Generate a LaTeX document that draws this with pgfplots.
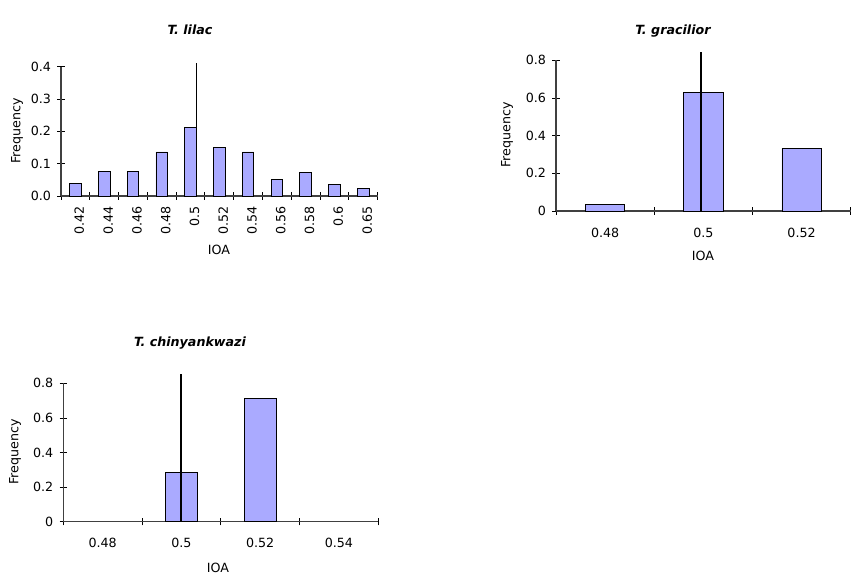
\documentclass[border=0pt]{standalone}
\usepackage{pgfplots}
\pgfplotsset{compat=1.18}
\usepackage{fontspec}
\setmainfont{DejaVu Sans}
\definecolor{barblue}{RGB}{170,170,255}
\newcommand{\ff}{\fontsize{9.5}{11}\selectfont}
\pgfplotsset{
  myaxis/.style={
    scale only axis, axis lines*=left,
    axis line style={black!75, line width=0.8pt},
    tick align=center, major tick length=0pt, minor tick length=5.5pt,
    every tick/.append style={black, line width=0.6pt},
    tick label style={font=\ff},
    y tick label style={xshift=-4pt},
    /pgf/number format/assume math mode=true,
    clip=false, ymin=0, anchor=south west,
  },
  mybar/.style={ybar, bar width=0.4, fill=barblue, draw=black, line width=0.6pt},
}
\begin{document}
\begin{tikzpicture}[x=0.75pt,y=0.75pt]
\useasboundingbox (0,0) rectangle (859,583);

% Chart 1: T. lilac
\begin{axis}[myaxis, at={(45.75pt,290.25pt)}, width=237.4pt, height=97.1pt,
  xmin=-0.5, xmax=10.5, ymax=0.4,
  xtick={0,1,2,3,4,5,6,7,8,9,10},
  xticklabels={0.42,0.44,0.46,0.48,0.5,0.52,0.54,0.56,0.58,0.6,0.65},
  minor xtick={-0.5,0.5,1.5,2.5,3.5,4.5,5.5,6.5,7.5,8.5,9.5,10.5},
  ytick={0,0.1,0.2,0.3,0.4}, minor ytick={0,0.1,0.2,0.3,0.4},
  y tick label style={/pgf/number format/.cd, fixed, fixed zerofill, precision=1},
  x tick label style={rotate=90, anchor=east, xshift=-4.5pt, yshift=-3pt}]
\addplot[mybar] coordinates {(0,0.039) (1,0.075) (2,0.075) (3,0.136) (4,0.211) (5,0.150) (6,0.136) (7,0.052) (8,0.073) (9,0.036) (10,0.024)};
\addplot[black, line width=0.8pt] coordinates {(4.22,0) (4.22,0.411)};
\end{axis}
\node[font={\ff\bfseries\itshape}] at (190,553) {T. lilac};
\node[font=\ff, rotate=90] at (17,452) {Frequency};
\node[font=\ff] at (219,333) {IOA};

% Chart 2: T. gracilior
\begin{axis}[myaxis, at={(417pt,279pt)}, width=221.0pt, height=113.0pt,
  xmin=-0.5, xmax=2.5, ymax=0.8,
  xtick={0,1,2}, xticklabels={0.48,0.5,0.52},
  minor xtick={-0.5,0.5,1.5,2.5},
  ytick={0,0.2,0.4,0.6,0.8}, minor ytick={0,0.2,0.4,0.6,0.8},
  y tick label style={/pgf/number format/.cd, fixed, precision=1},
  x tick label style={yshift=-9pt}]
\addplot[mybar] coordinates {(0,0.037) (1,0.630) (2,0.333)};
\addplot[black, line width=1.5pt] coordinates {(0.98,0) (0.98,0.843)};
\end{axis}
\node[font={\ff\bfseries\itshape}] at (673,552) {T. gracilior};
\node[font=\ff, rotate=90] at (507,448) {Frequency};
\node[font=\ff] at (703,327) {IOA};

% Chart 3: T. chinyankwazi
\begin{axis}[myaxis, at={(47.475pt,45.975pt)}, width=236.25pt, height=103.8pt,
  xmin=-0.5, xmax=3.5, ymax=0.8,
  xtick={0,1,2,3}, xticklabels={0.48,0.5,0.52,0.54},
  minor xtick={-0.5,0.5,1.5,2.5,3.5},
  ytick={0,0.2,0.4,0.6,0.8}, minor ytick={0,0.2,0.4,0.6,0.8},
  y tick label style={/pgf/number format/.cd, fixed, precision=1},
  x tick label style={yshift=-9pt}]
\addplot[mybar] coordinates {(1,0.286) (2,0.714)};
\addplot[black, line width=1.5pt] coordinates {(0.99,0) (0.99,0.854)};
\end{axis}
\node[font={\ff\bfseries\itshape}] at (190,240) {T. chinyankwazi};
\node[font=\ff, rotate=90] at (15,131) {Frequency};
\node[font=\ff] at (218,15) {IOA};
\end{tikzpicture}
\end{document}
